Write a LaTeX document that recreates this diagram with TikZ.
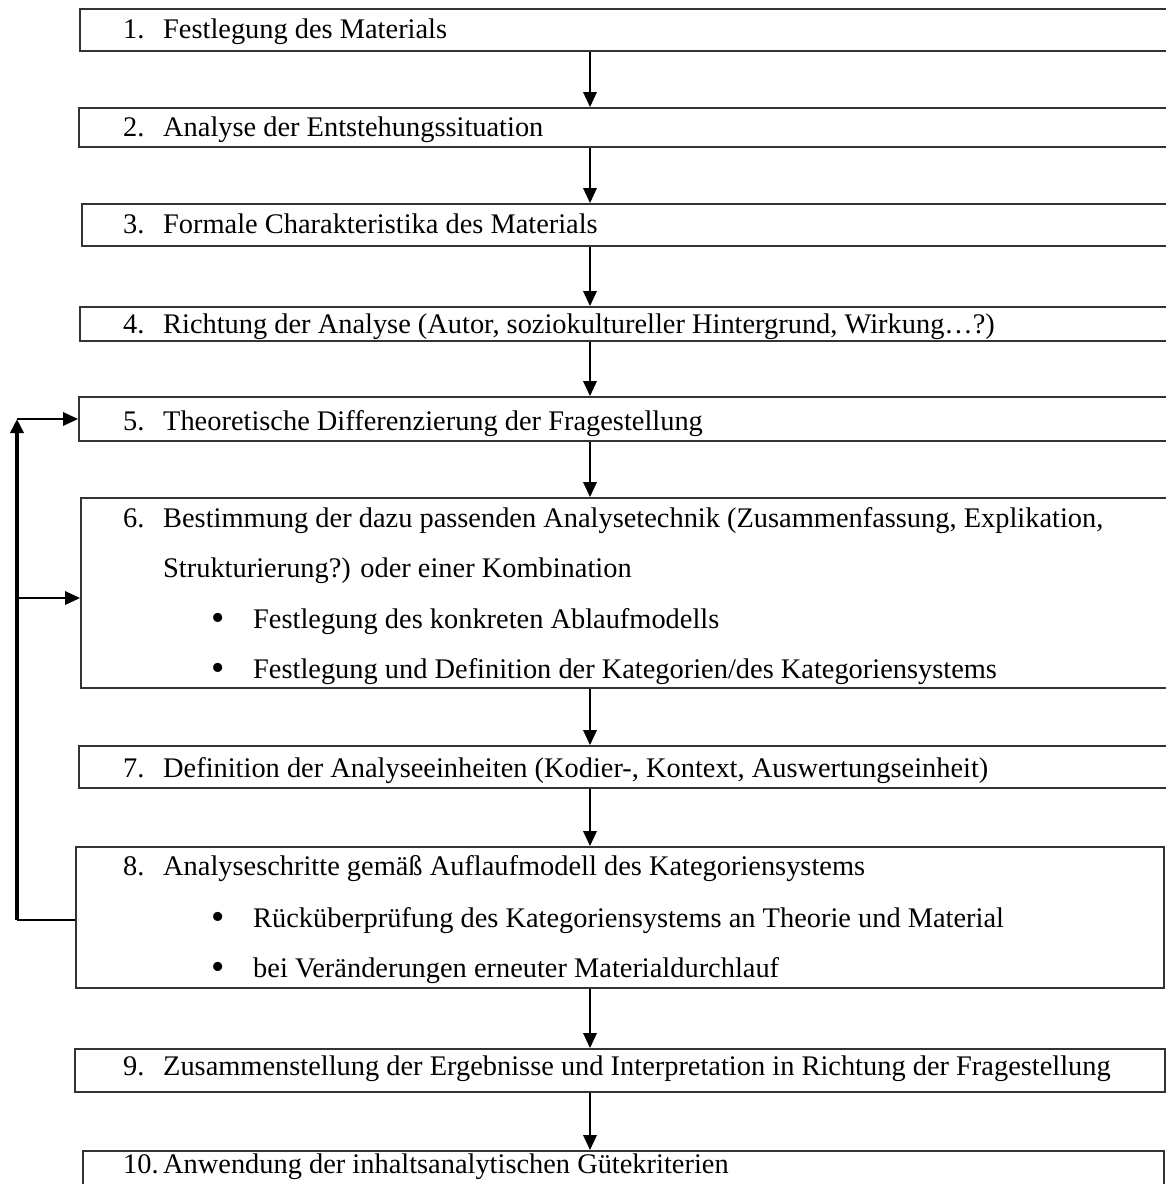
\documentclass[tikz,border=0pt]{standalone}
\usepackage{fontspec}
\setmainfont{Liberation Serif}
\usetikzlibrary{arrows.meta,fit}

\tikzset{
    stepbox/.style={draw=black!80, line width=1.6pt, inner sep=0pt},
    txt/.style={anchor=base west, inner sep=0pt, font=\fontsize{28.4}{34}\selectfont},
    flow/.style={line width=2.8pt, -{Triangle[length=15pt,width=13pt]}},
    back/.style={line width=2pt},
}
\newcommand{\nr}[1]{\makebox[40pt][l]{#1}}
\newcommand{\bul}{\makebox[42pt][l]{\raisebox{-2pt}{\fontsize{38}{34}\selectfont•}}}

\begin{document}
\begin{tikzpicture}[x=1pt,y=-1pt]
    \clip (0,0) rectangle (1166,1184);

    % Boxes: number/left/top/right/bottom
    \foreach \n/\l/\t/\r/\b in {1/80/9/1180/51, 2/79/108/1180/147, 3/82/204/1180/246,
        4/80/307/1180/341, 5/79/397/1180/441, 6/81/498/1180/688, 7/79/746/1180/788,
        8/76/847/1164/988, 9/75/1049/1165/1092, 10/83/1151/1164/1200}
        \node[stepbox, fit={(\l,\t) (\r,\b)}] (s\n) {};

    % Texts
    \node[txt] (t1) at (123,38) {\nr{1.}Festlegung des Materials};
    \node[txt] (t2) at (123,136) {\nr{2.}Analyse der Entstehungssituation};
    \node[txt] (t3) at (123,233) {\nr{3.}Formale Charakteristika des Materials};
    \node[txt] (t4) at (123,333) {\nr{4.}Richtung der Analyse (Autor, soziokultureller Hintergrund, Wirkung…?)};
    \node[txt] (t5) at (123,430) {\nr{5.}Theoretische Differenzierung der Fragestellung};
    \node[txt] (t6a) at (123,527) {\nr{6.}Bestimmung der dazu passenden Analysetechnik (Zusammenfassung, Explikation,};
    \node[txt] (t6b) at (163,577) {Strukturierung?) oder einer Kombination};
    \node[txt] (t6c) at (211,628) {\bul Festlegung des konkreten Ablaufmodells};
    \node[txt] (t6d) at (211,678) {\bul Festlegung und Definition der Kategorien/des Kategoriensystems};
    \node[txt] (t7) at (123,777) {\nr{7.}Definition der Analyseeinheiten (Kodier-, Kontext, Auswertungseinheit)};
    \node[txt] (t8a) at (123,875) {\nr{8.}Analyseschritte gemäß Auflaufmodell des Kategoriensystems};
    \node[txt] (t8b) at (211,927) {\bul Rücküberprüfung des Kategoriensystems an Theorie und Material};
    \node[txt] (t8c) at (211,977) {\bul bei Veränderungen erneuter Materialdurchlauf};
    \node[txt] (t9) at (123,1075) {\nr{9.}Zusammenstellung der Ergebnisse und Interpretation in Richtung der Fragestellung};
    \node[txt] (t10) at (123,1173) {\nr{10.}Anwendung der inhaltsanalytischen Gütekriterien};

    % Main flow
    \coordinate (ax) at (590,0);
    \foreach \a/\b in {1/2,2/3,3/4,4/5,5/6,6/7,7/8,8/9,9/10}
        \draw[flow] (s\a.south -| ax) -- (s\b.north -| ax);

    % Feedback loop
    \coordinate (lx) at (17,0);
    \coordinate (l8) at (0,920);
    \coordinate (l6) at (0,598);
    \draw[back] (s8.west |- l8) -- (lx |- l8);
    \draw[line width=4pt, -{Triangle[length=14pt,width=13pt]}] (lx |- l8) -- (lx |- s5.west);
    \draw[flow] (lx |- s5.west) -- (s5.west);
    \draw[flow] (lx |- l6) -- (s6.west |- l6);
\end{tikzpicture}
\end{document}
